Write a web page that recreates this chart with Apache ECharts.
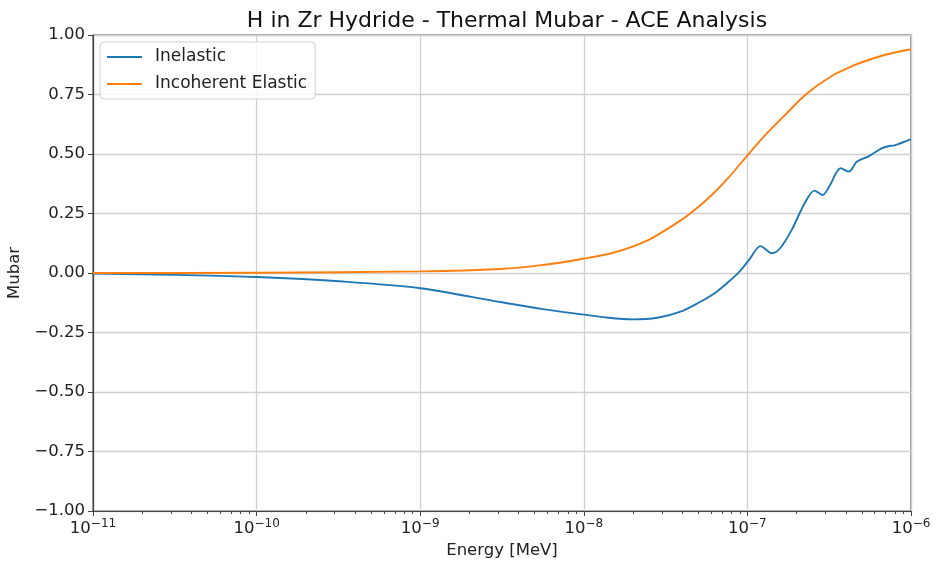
<!DOCTYPE html>
<html><head><meta charset="utf-8">
<script src="https://cdn.jsdelivr.net/npm/echarts@6/dist/echarts.min.js"></script>
<style>html,body{margin:0;padding:0;background:#fff}#c{width:936px;height:562px}</style>
</head><body><div id="c"></div>
<script>
// Energy exponents (log10 of MeV) and values
const elasticExp = [-11, -10, -9, -8.51, -8.27, -8.02, -7.82, -7.61, -7.41, -7.31, -7.21, -7.11, -7.0, -6.89, -6.78, -6.64, -6.48, -6.35, -6.25, -6.15, -6.0];
const elasticVal = [0.000, 0.001, 0.007, 0.017, 0.032, 0.058, 0.085, 0.137, 0.220, 0.272, 0.333, 0.405, 0.494, 0.580, 0.657, 0.752, 0.830, 0.872, 0.897, 0.918, 0.940];
const inelasticExp = [-11, -10.5, -10, -9.47, -9, -8.51, -8.25, -8.0, -7.85, -7.70, -7.55, -7.40, -7.29, -7.20, -7.12, -7.05, -6.99, -6.92, -6.85, -6.80, -6.73, -6.65, -6.59, -6.54, -6.50, -6.43, -6.38, -6.33, -6.26, -6.18, -6.13, -6.10, -6.0];
const inelasticVal = [-0.002, -0.008, -0.017, -0.036, -0.064, -0.122, -0.152, -0.175, -0.188, -0.195, -0.188, -0.160, -0.122, -0.085, -0.040, 0.005, 0.055, 0.113, 0.083, 0.104, 0.180, 0.293, 0.346, 0.328, 0.363, 0.440, 0.426, 0.468, 0.490, 0.524, 0.534, 0.536, 0.562];
const yTicks = [-1.0, -0.75, -0.5, -0.25, 0.0, 0.25, 0.5, 0.75, 1.0];
const seriesNames = ['Inelastic', 'Incoherent Elastic'];

const toPairs = (ex, v) => ex.map((e, i) => [Math.pow(10, e), v[i]]);

const chart = echarts.init(document.getElementById('c'));
const font = 'DejaVu Sans';
chart.setOption({
  animation: false,
  backgroundColor: '#fff',
  title: {
    text: 'H in Zr Hydride - Thermal Mubar - ACE Analysis',
    left: 502, top: 5, textAlign: 'center',
    textStyle: { fontFamily: font, fontSize: 22, fontWeight: 'normal', color: '#111' }
  },
  legend: {
    data: seriesNames,
    orient: 'vertical', left: 100, top: 42,
    padding: [5, 8, 5, 7],
    icon: 'rect',
    itemWidth: 35, itemHeight: 2, itemGap: 7,
    borderColor: '#d0d0d0', borderWidth: 1, borderRadius: 4,
    backgroundColor: 'rgba(255,255,255,0.8)',
    textStyle: { fontFamily: font, fontSize: 17, lineHeight: 20, color: '#222', padding: [0, 0, 0, 8] }
  },
  grid: { left: 93, right: 25, top: 35, bottom: 51, show: true, borderColor: '#444', borderWidth: 1.2, containLabel: false, outerBoundsMode: 'none' },
  xAxis: {
    type: 'log', logBase: 10, min: 1e-11, max: 1e-6,
    name: 'Energy [MeV]', nameLocation: 'middle', nameGap: 31,
    nameTextStyle: { fontFamily: font, fontSize: 16.5, color: '#222' },
    axisLine: { show: true, onZero: false, lineStyle: { color: '#444', width: 1.2 } },
    axisTick: { show: true, length: 5, lineStyle: { color: '#444' } },
    minorTick: { show: true, splitNumber: 9, length: 3, lineStyle: { color: '#444' } },
    splitLine: { show: true, lineStyle: { color: '#d0d0d0', width: 1.3 } },
    axisLabel: {
      fontFamily: font, fontSize: 16.5, color: '#222', margin: 7,
      formatter: function (v) {
        const e = Math.round(Math.log10(v));
        return '10{sup|' + String(e).replace('-', '\u2212') + '}';
      },
      rich: { sup: { fontFamily: font, fontSize: 12, color: '#222', padding: [0, 0, 10, 0] } }
    }
  },
  yAxis: {
    type: 'value', min: -1, max: 1, interval: 0.25,
    name: 'Mubar', nameLocation: 'middle', nameGap: 66,
    nameTextStyle: { fontFamily: font, fontSize: 16.5, color: '#222' },
    axisLine: { show: true, lineStyle: { color: '#444', width: 1.2 } },
    axisTick: { show: true, length: 5, lineStyle: { color: '#444' } },
    splitLine: { show: true, lineStyle: { color: '#d0d0d0', width: 1.3 } },
    axisLabel: {
      fontFamily: font, fontSize: 16.5, color: '#222', margin: 8,
      formatter: v => v.toFixed(2).replace('-', '\u2212')
    }
  },
  series: [
    { name: seriesNames[0], type: 'line', data: toPairs(inelasticExp, inelasticVal), showSymbol: false, symbol: 'none', smooth: 0.3,
      lineStyle: { color: '#1f77b4', width: 1.9 }, itemStyle: { color: '#1f77b4' } },
    { name: seriesNames[1], type: 'line', data: toPairs(elasticExp, elasticVal), showSymbol: false, symbol: 'none', smooth: 0.3,
      lineStyle: { color: '#ff7f0e', width: 1.9 }, itemStyle: { color: '#ff7f0e' } }
  ]
});
</script></body></html>
